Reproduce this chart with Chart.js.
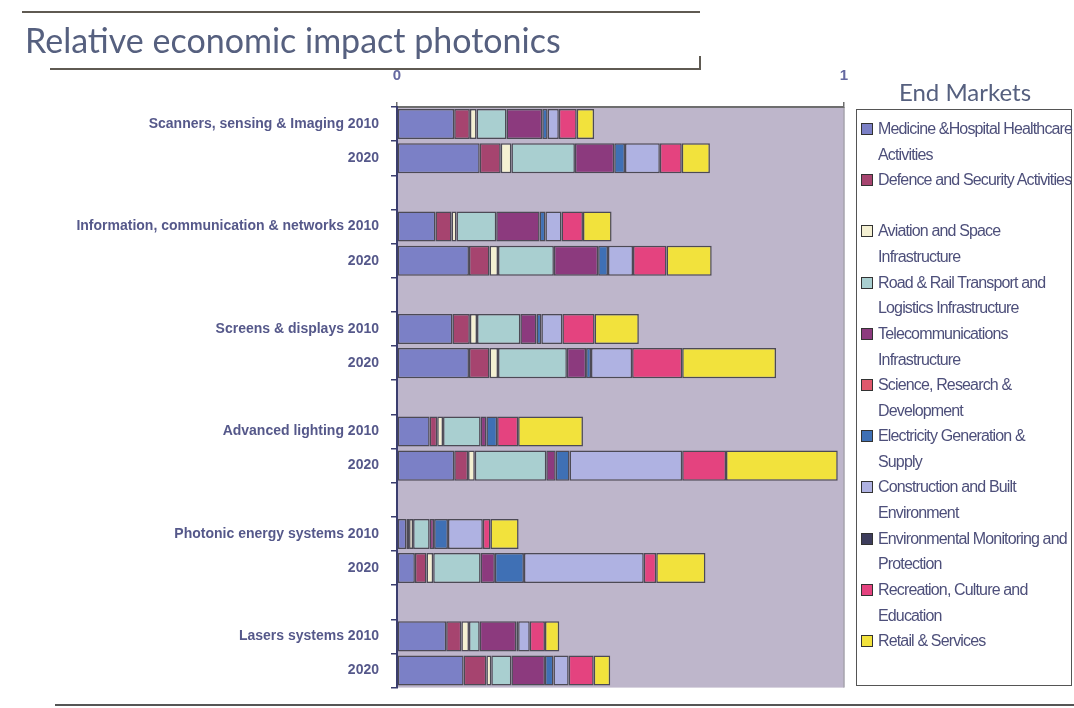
<!DOCTYPE html>
<html>
<head>
<meta charset="utf-8">
<script src="https://cdn.jsdelivr.net/npm/chart.js@4/dist/chart.umd.min.js"></script>
<style>
  html, body { margin: 0; padding: 0; background: #ffffff; }
  #wrap { position: relative; width: 1074px; height: 708px; overflow: hidden; background: #fff; }
  #chart { position: absolute; left: 0; top: 0; }
  .rule { position: absolute; background: #5f5a52; }
  #title { position: absolute; left: 25px; top: 19px; font-family: Lato, "Open Sans", sans-serif;
           font-size: 34px; color: #56607f; white-space: nowrap; }
  #legTitle { position: absolute; left: 858px; width: 214px; top: 77px; text-align: center;
              font-family: Lato, "Open Sans", sans-serif; font-size: 24px; color: #56607f; }
  #legend { position: absolute; left: 856px; top: 109px; width: 216px; height: 577px;
            border: 1.5px solid #555; box-sizing: border-box; background: #fff; }
  .item { position: absolute; left: 3px; width: 212px; height: 51px; }
  .sw { position: absolute; left: 1px; top: 7px; width: 10px; height: 10px; border: 1px solid #333; }
  .txt { position: absolute; left: 18px; top: 0; font-family: "Liberation Sans", Arial, sans-serif;
         font-size: 16px; letter-spacing: -0.85px; line-height: 25.7px; color: #4d4f7a; white-space: pre; }
</style>
</head>
<body>
<div id="wrap">
  <canvas id="chart" width="1074" height="708"></canvas>
  <div class="rule" style="left:22px; top:11px; width:678px; height:2px;"></div>
  <div id="title">Relative economic impact photonics</div>
  <div class="rule" style="left:50px; top:68px; width:651px; height:2px;"></div>
  <div class="rule" style="left:699px; top:56px; width:2px; height:14px;"></div>
  <div class="rule" style="left:55px; top:704px; width:1019px; height:2px; background:#555;"></div>
  <div id="legTitle">End Markets</div>
  <div id="legend"></div>
</div>
<script>
// Application groups and the two years shown for each
const groups = [
  "Scanners, sensing & Imaging",
  "Information, communication & networks",
  "Screens & displays",
  "Advanced lighting",
  "Photonic energy systems",
  "Lasers systems"
];
const years = ["2010", "2020"];

// End-market names (line breaks are where the legend wraps)
const marketNames = [
  "Medicine &Hospital Healthcare\nActivities",
  "Defence and Security Activities",
  "Aviation and Space\nInfrastructure",
  "Road & Rail Transport and\nLogistics Infrastructure",
  "Telecommunications\nInfrastructure",
  "Science, Research &\nDevelopment",
  "Electricity Generation &\nSupply",
  "Construction and Built\nEnvironment",
  "Environmental Monitoring and\nProtection",
  "Recreation, Culture and\nEducation",
  "Retail & Services"
];
const marketColors = [
  "#7b80c6", "#a6446f", "#f4f0d2", "#a9cfd0", "#8c3a7e", "#e0586c",
  "#3f70b5", "#afb2e2", "#3d3d5c", "#e4437f", "#f2e23c"
];

// Relative impact per market, order: each group 2010 then 2020
const medicine      = [0.128, 0.185, 0.086, 0.161, 0.124, 0.161, 0.073, 0.128, 0.021, 0.040, 0.110, 0.149];
const defence       = [0.035, 0.047, 0.036, 0.046, 0.039, 0.046, 0.017, 0.031, 0.006, 0.026, 0.034, 0.051];
const aviation      = [0.015, 0.024, 0.011, 0.019, 0.016, 0.019, 0.013, 0.015, 0.009, 0.015, 0.017, 0.011];
const roadRail      = [0.067, 0.142, 0.089, 0.125, 0.097, 0.154, 0.084, 0.160, 0.037, 0.106, 0.024, 0.045];
const telecom       = [0.080, 0.088, 0.097, 0.099, 0.036, 0.043, 0.013, 0.021, 0.010, 0.032, 0.082, 0.075];
const science       = [0, 0, 0, 0, 0, 0, 0, 0, 0, 0, 0, 0];
const electricity   = [0.012, 0.024, 0.013, 0.022, 0.011, 0.011, 0.024, 0.031, 0.031, 0.065, 0.004, 0.019];
const construction  = [0.025, 0.078, 0.036, 0.056, 0.047, 0.092, 0.000, 0.252, 0.078, 0.268, 0.026, 0.034];
const environmental = [0, 0, 0, 0, 0, 0, 0, 0, 0, 0, 0, 0];
const recreation    = [0.040, 0.049, 0.048, 0.075, 0.072, 0.112, 0.047, 0.098, 0.017, 0.028, 0.034, 0.056];
const retail        = [0.039, 0.063, 0.064, 0.101, 0.099, 0.210, 0.145, 0.250, 0.063, 0.110, 0.032, 0.037];

const seriesValues = [medicine, defence, aviation, roadRail, telecom, science,
                      electricity, construction, environmental, recreation, retail];

// Axis tick labels along the value axis
const xTickLabels = { 0: "0", 1: "1" };

// Category rows: two bars per group and an empty spacer row between groups
const rowLabels = [];
groups.forEach((g, gi) => {
  rowLabels.push(g + " " + years[0]);
  rowLabels.push(years[1]);
  if (gi < groups.length - 1) rowLabels.push("");
});
function toRows(arr) {
  const out = [];
  groups.forEach((g, gi) => {
    out.push(arr[gi * 2]);
    out.push(arr[gi * 2 + 1]);
    if (gi < groups.length - 1) out.push(null);
  });
  return out;
}

const datasets = marketNames.map((name, i) => ({
  label: name.replace("\n", " "),
  data: toRows(seriesValues[i]),
  backgroundColor: marketColors[i],
  borderColor: "#4c4a55",
  borderWidth: 1.5,
  borderSkipped: false,
  barPercentage: 0.88,
  categoryPercentage: 1.0
}));

const plotBackground = {
  id: "plotBackground",
  beforeDraw(chart) {
    const { ctx, chartArea: a } = chart;
    ctx.save();
    ctx.fillStyle = "#beb6cb";
    ctx.fillRect(a.left, a.top, a.right - a.left, a.bottom - a.top);
    ctx.strokeStyle = "#a6a3ad";
    ctx.lineWidth = 1.5;
    ctx.beginPath();
    ctx.moveTo(a.right, a.top);
    ctx.lineTo(a.right, a.bottom);
    ctx.stroke();
    ctx.restore();
  }
};

new Chart(document.getElementById("chart"), {
  type: "bar",
  data: { labels: rowLabels, datasets },
  plugins: [plotBackground],
  options: {
    responsive: false,
    animation: false,
    devicePixelRatio: 1,
    indexAxis: "y",
    layout: { padding: { left: 0, top: 62, right: 230, bottom: 17 } },
    plugins: { legend: { display: false }, tooltip: { enabled: false }, title: { display: false } },
    scales: {
      x: {
        position: "top",
        stacked: true,
        min: 0,
        max: 1,
        afterFit(scale) { scale.height = 45; },
        grid: { drawOnChartArea: false, drawTicks: true, tickLength: 5, color: "#6e6e6e", lineWidth: 1.5 },
        border: { display: true, color: "#6e6e6e", width: 2 },
        ticks: {
          stepSize: 1,
          padding: 17,
          color: "#6468a0",
          font: { family: "Liberation Sans, Arial, sans-serif", size: 15, weight: "bold" },
          callback: (v) => xTickLabels[v] ?? ""
        }
      },
      y: {
        stacked: true,
        afterFit(scale) { scale.width = 397; },
        grid: { offset: true, drawOnChartArea: false, drawTicks: true, tickLength: 6, color: "#3a3d6e", lineWidth: 1.5 },
        border: { display: true, color: "#3a3d6e", width: 2 },
        ticks: {
          autoSkip: false,
          padding: 12,
          color: "#55588a",
          font: { family: "Liberation Sans, Arial, sans-serif", size: 14, weight: "bold" }
        }
      }
    }
  }
});

// HTML legend built from the market names and colours
const legend = document.getElementById("legend");
marketNames.forEach((name, i) => {
  const item = document.createElement("div");
  item.className = "item";
  item.style.top = (6 + i * 51.2) + "px";
  const sw = document.createElement("div");
  sw.className = "sw";
  sw.style.background = marketColors[i];
  const txt = document.createElement("div");
  txt.className = "txt";
  txt.textContent = name;
  item.appendChild(sw);
  item.appendChild(txt);
  legend.appendChild(item);
});
</script>
</body>
</html>
